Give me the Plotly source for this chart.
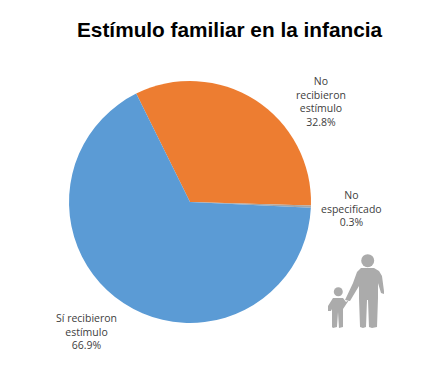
import plotly.graph_objects as go

W, H = 425, 383

title = "Estímulo familiar en la infancia"
categories = ["No recibieron estímulo", "No especificado", "Sí recibieron estímulo"]
values = [32.8, 0.3, 66.9]
colors = ["#ED7D31", "#A5A5A5", "#5B9BD5"]
label_lines = ["No<br>recibieron<br>estímulo", "No<br>especificado", "Sí recibieron<br>estímulo"]
label_pos = [(321, 101), (351, 208), (86, 331)]


def px(x):
    return x / W


def py(y):
    return 1 - y / H


def path(points):
    return "M " + " L ".join(f"{px(x):.4f},{py(y):.4f}" for x, y in points) + " Z"


def circle(cx, cy, r):
    return dict(type="circle", xref="paper", yref="paper", x0=px(cx - r), x1=px(cx + r),
                y0=py(cy + r), y1=py(cy - r), fillcolor=ICON, line_width=0, layer="above")


ICON = "#ABABAB"
adult = [(361, 268), (374, 268), (379, 271), (382, 276), (384, 291), (384, 294), (381, 293),
         (378, 283), (378, 298), (377, 327), (372, 328), (369, 327), (368, 300), (367, 300),
         (366, 327), (363, 328), (360, 327), (359, 298), (359, 286), (350, 301), (345, 300),
         (353, 283), (357, 272)]
child = [(333, 298), (343, 298), (346, 302), (349, 300), (345, 306), (343, 309), (343, 327),
         (339, 328), (338, 312), (337, 327), (333, 328), (332, 327), (332, 309), (331, 311),
         (328, 311), (328, 306)]

fig = go.Figure(go.Pie(
    labels=categories,
    values=values,
    sort=False,
    direction="clockwise",
    rotation=-26.4,
    marker=dict(colors=colors, line=dict(width=0)),
    textinfo="none",
    hoverinfo="label+percent",
    showlegend=False,
    domain=dict(x=[px(69), px(311)], y=[py(323), py(81)]),
))

annotations = [
    dict(text=f"{t}<br>{v}%", x=px(x), y=py(y), xref="paper", yref="paper", showarrow=False,
         align="center", xanchor="center", yanchor="middle",
         font=dict(family="Open Sans", size=10.5, color="#404040"))
    for t, v, (x, y) in zip(label_lines, values, label_pos)
]
annotations.append(dict(text=f"<b>{title}</b>", x=px(230), y=py(29), xref="paper", yref="paper",
                        showarrow=False, xanchor="center", yanchor="middle",
                        font=dict(family="Liberation Sans", size=20.8, color="#000000")))

shapes = [
    circle(367.7, 260.7, 6.5),
    circle(338.3, 291.7, 4.5),
    dict(type="path", xref="paper", yref="paper", path=path(adult), fillcolor=ICON, line_width=0, layer="above"),
    dict(type="path", xref="paper", yref="paper", path=path(child), fillcolor=ICON, line_width=0, layer="above"),
]

fig.update_layout(width=W, height=H, margin=dict(l=0, r=0, t=0, b=0), paper_bgcolor="white",
                  annotations=annotations, shapes=shapes)
fig.write_html("out.html", config={"displayModeBar": False},
               post_script="document.body.style.margin='0';")
